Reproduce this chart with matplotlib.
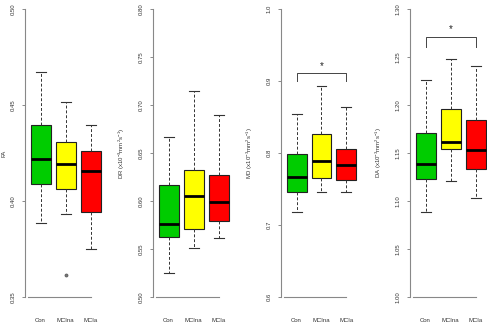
import matplotlib
matplotlib.use('Agg')
import matplotlib.pyplot as plt

plt.rcParams['font.family'] = ['Liberation Sans', 'DejaVu Sans']
plt.rcParams['mathtext.fontset'] = 'custom'
plt.rcParams['mathtext.rm'] = 'Liberation Sans'
plt.rcParams['mathtext.it'] = 'Liberation Sans:italic'

# grupos
groups = ['Con', 'MCIna', 'MCIa']
colors = ['#00CC00', '#FFFF00', '#FF0000']

# FA
fa_whislo = [0.3887, 0.3930, 0.3751]
fa_q1 = [0.4090, 0.4060, 0.3941]
fa_med = [0.4220, 0.4191, 0.4154]
fa_q3 = [0.4394, 0.4307, 0.4262]
fa_whishi = [0.4670, 0.4514, 0.4394]
fa_fliers = [[], [0.3616], []]

# DR
dr_whislo = [0.5253, 0.5514, 0.5615]
dr_q1 = [0.5622, 0.5712, 0.5795]
dr_med = [0.5760, 0.6049, 0.5993]
dr_q3 = [0.6163, 0.6323, 0.6274]
dr_whishi = [0.6667, 0.7146, 0.6893]

# MD
md_whislo = [0.7185, 0.7463, 0.7454]
md_q1 = [0.7454, 0.7657, 0.7625]
md_med = [0.7662, 0.7889, 0.7838]
md_q3 = [0.7982, 0.8260, 0.8060]
md_whishi = [0.8537, 0.8926, 0.8644]

# DA
da_whislo = [1.0882, 1.1212, 1.1031]
da_q1 = [1.1233, 1.1545, 1.1333]
da_med = [1.1382, 1.1615, 1.1535]
da_q3 = [1.1705, 1.1962, 1.1847]
da_whishi = [1.2264, 1.2479, 1.2410]

units = ' (x10$^{-3}$mm$^{2}$s$^{-1}$)'
paineis = [
    ('FA', fa_whislo, fa_q1, fa_med, fa_q3, fa_whishi, fa_fliers,
     (0.35, 0.50), [0.35, 0.40, 0.45, 0.50], '%.2f', None),
    ('DR' + units, dr_whislo, dr_q1, dr_med, dr_q3, dr_whishi, [[], [], []],
     (0.50, 0.80), [0.50, 0.55, 0.60, 0.65, 0.70, 0.75, 0.80], '%.2f', None),
    ('MD' + units, md_whislo, md_q1, md_med, md_q3, md_whishi, [[], [], []],
     (0.6, 1.0), [0.6, 0.7, 0.8, 0.9, 1.0], '%.1f', (0.9116, 0.9004, 0.921)),
    ('DA' + units, da_whislo, da_q1, da_med, da_q3, da_whishi, [[], [], []],
     (1.00, 1.30), [1.00, 1.05, 1.10, 1.15, 1.20, 1.25, 1.30], '%.2f', (1.2705, 1.2600, 1.279)),
]

W, H = 487, 328
fig = plt.figure(figsize=(W / 100, H / 100), dpi=100)

lefts = [25, 153, 281, 410]
axw = 81
top, bottom = 9, 297

for k, (lab, wlo, q1, med, q3, whi, fl, ylim, ticks, fmt, sig) in enumerate(paineis):
    ax = fig.add_axes([lefts[k] / W, (H - bottom) / H, axw / W, (bottom - top) / H])
    stats = []
    for i in range(3):
        stats.append(dict(med=med[i], q1=q1[i], q3=q3[i], whislo=wlo[i],
                          whishi=whi[i], fliers=fl[i]))
    bp = ax.bxp(stats, positions=[1, 2, 3], widths=0.8, patch_artist=True,
                boxprops=dict(edgecolor='#222222', linewidth=0.8),
                medianprops=dict(color='black', linewidth=2.0),
                whiskerprops=dict(color='#333333', linewidth=0.7, linestyle=(0, (3, 2))),
                capprops=dict(color='#333333', linewidth=0.8),
                flierprops=dict(marker='o', markersize=2.2, markerfacecolor='#777777',
                                markeredgecolor='#555555', markeredgewidth=0.5))
    for patch, c in zip(bp['boxes'], colors):
        patch.set_facecolor(c)
    for cap in bp['caps']:
        x = cap.get_xdata()
        m = (x[0] + x[1]) / 2
        cap.set_xdata([m - 0.2, m + 0.2])

    ax.set_xlim(0.38, 3.62)
    ax.set_ylim(*ylim)
    ax.set_yticks(ticks)
    ax.set_yticklabels([fmt % t for t in ticks], rotation=90, va='center')
    ax.set_xticks([1, 2, 3])
    ax.set_xticklabels(groups)
    ax.tick_params(axis='x', length=0, pad=15, labelsize=4.3, colors='#333333')
    ax.tick_params(axis='y', length=2, width=0.6, pad=5, labelsize=4.3,
                   colors='#777777', labelcolor='#333333')
    for s in ['top', 'right']:
        ax.spines[s].set_visible(False)
    ax.spines['left'].set_color('#888888')
    ax.spines['left'].set_linewidth(0.8)
    ax.spines['bottom'].set_color('#888888')
    ax.spines['bottom'].set_linewidth(0.8)
    ax.spines['bottom'].set_bounds(0.5, 3.0)
    ax.set_ylabel(lab, fontsize=4.3, color='#333333')
    if k == 0:
        ax.yaxis.set_label_coords(-19 / axw, 0.5)
    else:
        ax.yaxis.set_label_coords(-26 / axw, 0.5)
    ax.patch.set_alpha(0)

    if sig is not None:
        yb, yl, ys = sig
        ax.plot([1, 1, 3, 3], [yl, yb, yb, yl], color='#444444', linewidth=0.7)
        ax.text(2, ys, '*', ha='center', va='center', fontsize=7, color='#222222')

fig.savefig('out.png', dpi=100)
